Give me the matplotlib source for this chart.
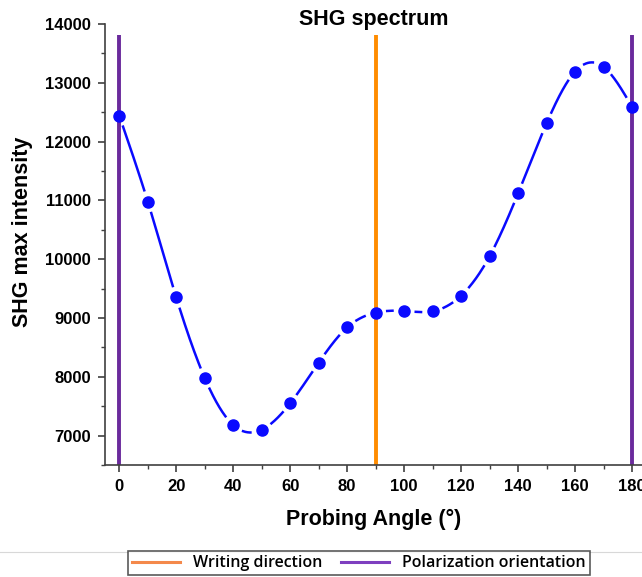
import numpy as np
import matplotlib.pyplot as plt
from matplotlib.lines import Line2D

plt.rcParams['font.family'] = ['Liberation Sans', 'DejaVu Sans']

angles = [0, 10, 20, 30, 40, 50, 60, 70, 80, 90, 100, 110, 120, 130, 140, 150, 160, 170, 180]
intensity = [12440, 10980, 9350, 7980, 7180, 7100, 7550, 8240, 8840, 9090,
             9120, 9115, 9380, 10050, 11120, 12310, 13190, 13270, 12590]
writing_dir = [90]
polar_dir = [0, 180]


def cubic_spline(x, y, xs):
    # natural cubic spline through the measured points
    x = np.asarray(x, float)
    y = np.asarray(y, float)
    n = len(x)
    h = np.diff(x)
    A = np.zeros((n, n))
    r = np.zeros(n)
    A[0, 0] = A[-1, -1] = 1.0
    for i in range(1, n - 1):
        A[i, i - 1] = h[i - 1]
        A[i, i] = 2 * (h[i - 1] + h[i])
        A[i, i + 1] = h[i]
        r[i] = 3 * ((y[i + 1] - y[i]) / h[i] - (y[i] - y[i - 1]) / h[i - 1])
    c = np.linalg.solve(A, r)
    b = (y[1:] - y[:-1]) / h - h * (2 * c[:-1] + c[1:]) / 3
    d = (c[1:] - c[:-1]) / (3 * h)
    idx = np.clip(np.searchsorted(x, xs) - 1, 0, n - 2)
    t = xs - x[idx]
    return y[idx] + b[idx] * t + c[idx] * t ** 2 + d[idx] * t ** 3


fig = plt.figure(figsize=(6.42, 5.77), dpi=100)
ax = fig.add_axes([0.1636, 0.1941, 0.8364, 0.7643])
ax.set_xlim(-5, 183.5)
ax.set_ylim(6500, 14000)

for xv in polar_dir:
    ax.plot([xv, xv], [6500, 13810], color='#6a2a9c', lw=2.8, zorder=2, solid_capstyle='butt')
for xv in writing_dir:
    ax.plot([xv, xv], [6500, 13810], color='#ff8c00', lw=2.8, zorder=2, solid_capstyle='butt')

# smooth curve with gaps around each symbol
xs = np.linspace(angles[0], angles[-1], 3000)
ys = cubic_spline(angles, intensity, xs)
pts = ax.transData.transform(np.column_stack([xs, ys]))
mk = ax.transData.transform(np.column_stack([angles, intensity]))
dist = np.min(np.hypot(pts[:, None, 0] - mk[None, :, 0], pts[:, None, 1] - mk[None, :, 1]), axis=1)
ys_gap = np.where(dist < 11.5, np.nan, ys)
ax.plot(xs, ys_gap, color='#0a0aff', lw=1.8, zorder=3)
ax.plot(angles, intensity, 'o', color='#0a0aff', ms=8, mec='#0a0aff', zorder=4, clip_on=False)

ax.spines['top'].set_visible(False)
ax.spines['right'].set_visible(False)
for s in ['left', 'bottom']:
    ax.spines[s].set_color('#404040')
    ax.spines[s].set_linewidth(1.2)

ax.set_xticks(range(0, 181, 20))
ax.set_xticks(range(0, 181, 10), minor=True)
ax.set_yticks(range(7000, 14001, 1000))
ax.set_yticks(range(6500, 14001, 500), minor=True)
ax.tick_params(which='major', length=5, width=1.2, color='#404040', labelsize=12, pad=5)
ax.tick_params(which='minor', length=3, width=1.0, color='#404040')
for lab in ax.get_xticklabels() + ax.get_yticklabels():
    lab.set_fontweight('bold')

ax.set_xlabel('Probing Angle (°)', fontsize=15.5, fontweight='bold', labelpad=11)
ax.set_ylabel('SHG max intensity', fontsize=15.5, fontweight='bold')
ax.yaxis.set_label_coords(-0.134, 0.528)
ax.set_title('SHG spectrum', fontsize=15.5, fontweight='bold', y=0.998, pad=0)

# separator above the legend
fig.add_artist(Line2D([0, 1], [0.044, 0.044], color='#d8d8d8', lw=0.8))

handles = [Line2D([], [], color='#f4894b', lw=2.2),
           Line2D([], [], color='#7e3fbf', lw=2.2)]
leg = fig.legend(handles, ['Writing direction', 'Polarization orientation'],
                 loc='center', bbox_to_anchor=(0.559, 0.0235), ncol=2,
                 frameon=True, fancybox=False, edgecolor='#303030',
                 prop={'family': 'Open Sans', 'size': 11.5, 'weight': 'semibold'},
                 handlelength=3, handletextpad=0.8, columnspacing=1.2, borderpad=0.25)
leg.get_frame().set_linewidth(1.2)

fig.savefig('out.png', dpi=100)
